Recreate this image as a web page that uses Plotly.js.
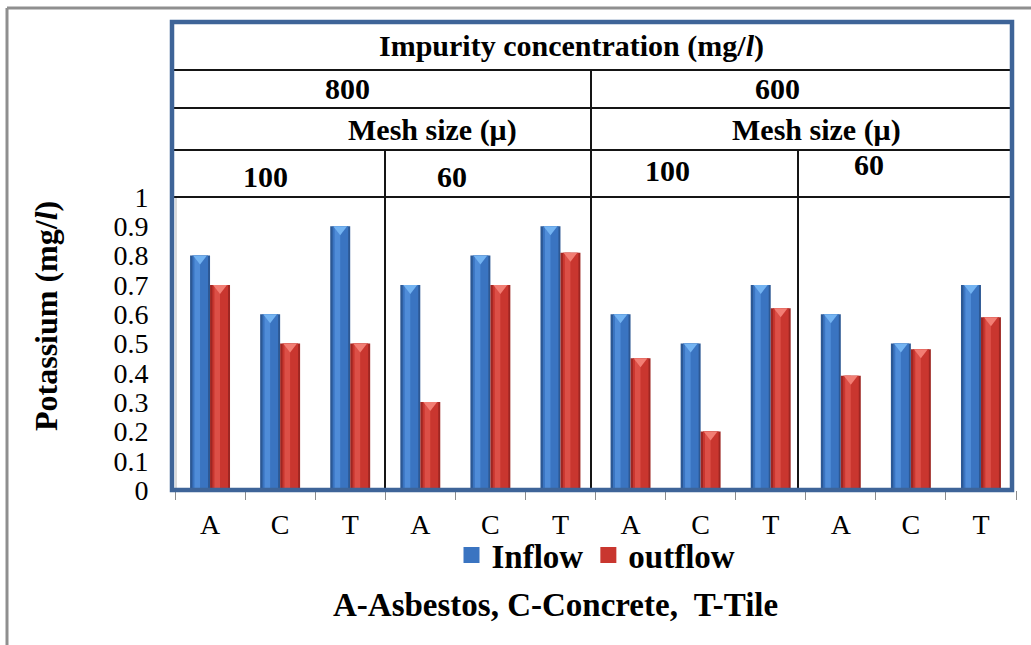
<!DOCTYPE html>
<html>
<head>
<meta charset="utf-8">
<script src="https://cdn.plot.ly/plotly-3.0.1.min.js"></script>
<style>
  html, body { margin: 0; padding: 0; background: #ffffff; }
  #chart { width: 1031px; height: 645px; }
</style>
</head>
<body>
<div id="chart"></div>
<script>
// ---- data ----
const categories = ['A', 'C', 'T', 'A', 'C', 'T', 'A', 'C', 'T', 'A', 'C', 'T'];
const inflow  = [0.8, 0.6, 0.9, 0.7, 0.8, 0.9, 0.6, 0.5, 0.7, 0.6, 0.5, 0.7];
const outflow = [0.7, 0.5, 0.5, 0.3, 0.7, 0.81, 0.45, 0.2, 0.62, 0.39, 0.48, 0.59];
const yTicks = [0, 0.1, 0.2, 0.3, 0.4, 0.5, 0.6, 0.7, 0.8, 0.9, 1];
const concentrationLabels = ['800', '600'];
const meshLabels = ['100', '60', '100', '60'];
const headerTitle = 'Impurity concentration (mg/<i>l</i>)';
const meshTitle = 'Mesh size (μ)';
const yTitle = 'Potassium (mg/<i>l</i>)';
const footnote = 'A-Asbestos, C-Concrete,  T-Tile';

// ---- geometry helpers (pixel -> paper) ----
const W = 1031, H = 645;
const M = { l: 175, r: 15, t: 197, b: 155 };
const PW = W - M.l - M.r, PH = H - M.t - M.b;
const px = x => (x - M.l) / PW;
const py = y => (H - M.b - y) / PH;

const FAMILY = '"Liberation Serif", "Times New Roman", serif';
const f = (size, bold) => ({ family: FAMILY, size: size, color: '#000',
                             weight: bold ? 'bold' : 'normal' });

const idx = categories.map((_, i) => i);
const BAR_W = 0.285;

// cylinder-like shading: stacked bar layers of decreasing width
const series = [
  { name: 'Inflow', values: inflow, base: -BAR_W,
    layers: [['#2c5894', 0, 1], ['#3a74c1', 0.12, 0.9], ['#4f8cd8', 0.22, 0.5]],
    cap: '#74b4f2', legendColor: '#3a74c1' },
  { name: 'outflow', values: outflow, base: 0,
    layers: [['#9e2622', 0, 1], ['#c9362f', 0.12, 0.9], ['#dc4f47', 0.22, 0.5]],
    cap: '#f27e74', legendColor: '#c9362f' }
];

const traces = [];
series.forEach(s => {
  s.layers.forEach(([color, from, to]) => {
    traces.push({
      type: 'bar', x: idx, y: s.values, name: s.name,
      offset: s.base + from * BAR_W, width: (to - from) * BAR_W,
      marker: { color: color, line: { width: 0 } },
      showlegend: false, hoverinfo: 'skip'
    });
  });
});
series.forEach(s => {
  // bevelled top of each bar
  traces.push({
    type: 'scatter', mode: 'markers', showlegend: false, hoverinfo: 'skip',
    x: idx.map(i => i + s.base + BAR_W / 2), y: s.values,
    marker: { symbol: 'triangle-down', standoff: 3, size: 12,
              color: s.cap, line: { width: 0 } }
  });
});
series.forEach(s => {
  // legend swatches
  traces.push({
    type: 'scatter', mode: 'markers', name: s.name, x: [null], y: [null],
    marker: { symbol: 'square', size: 18, color: s.legendColor, line: { width: 0 } },
    hoverinfo: 'skip'
  });
});

// ---- table lines and frame ----
const black = { color: '#151515', width: 2 };
const hLine = (y, x0, x1) => ({ type: 'line', xref: 'paper', yref: 'paper',
  x0: px(x0), x1: px(x1), y0: py(y), y1: py(y), line: black, layer: 'above' });
const vLine = (x, y0, y1) => ({ type: 'line', xref: 'paper', yref: 'paper',
  x0: px(x), x1: px(x), y0: py(y0), y1: py(y1), line: black, layer: 'above' });

const shapes = [
  // outer border
  { type: 'line', xref: 'paper', yref: 'paper', x0: px(7), x1: px(1031), y0: py(8), y1: py(8),
    line: { color: '#8f8f8f', width: 3 } },
  { type: 'line', xref: 'paper', yref: 'paper', x0: px(7), x1: px(7), y0: py(8), y1: py(645),
    line: { color: '#8f8f8f', width: 3 } },
  // thin plot-area edge next to the value axis
  { type: 'line', xref: 'paper', yref: 'paper', x0: px(176), x1: px(176), y0: py(197), y1: py(488),
    line: { color: '#b5b5b5', width: 1 } },
  hLine(70, 172, 1012), hLine(108, 172, 1012), hLine(150, 172, 1012), hLine(197, 172, 1012),
  vLine(591, 70, 490), vLine(385, 150, 490), vLine(798, 150, 490),
  // blue frame around table and plot
  { type: 'rect', xref: 'paper', yref: 'paper', x0: px(172), x1: px(1012), y0: py(490), y1: py(22),
    line: { color: '#3e6498', width: 4.5 }, layer: 'above' }
];

const ann = (text, x, y, font, extra) => Object.assign({
  text: text, xref: 'paper', yref: 'paper', x: px(x), y: py(y),
  xanchor: 'center', yanchor: 'middle', showarrow: false, font: font
}, extra || {});

const HDR = 30;
const annotations = [
  ann(headerTitle, 571, 46, f(HDR, true)),
  ann(concentrationLabels[0], 347, 88, f(HDR, true)),
  ann(concentrationLabels[1], 777, 88, f(HDR, true)),
  ann(meshTitle, 432, 130, f(HDR, true)),
  ann(meshTitle, 816, 130, f(HDR, true)),
  ann(meshLabels[0], 265, 176, f(HDR, true)),
  ann(meshLabels[1], 452, 176, f(HDR, true)),
  ann(meshLabels[2], 667, 170, f(HDR, true)),
  ann(meshLabels[3], 869, 165, f(HDR, true)),
  ann(yTitle, 46, 316, f(32, true), { textangle: -90 }),
  ann(footnote, 555, 605, f(33, true))
];

const layout = {
  width: W, height: H,
  margin: M,
  paper_bgcolor: '#ffffff', plot_bgcolor: '#ffffff',
  barmode: 'overlay',
  showlegend: true,
  legend: { orientation: 'h', x: px(596), xanchor: 'center', y: py(555), yanchor: 'middle',
            font: f(33, true), bgcolor: 'rgba(0,0,0,0)', itemwidth: 30, itemsizing: 'trace' },
  xaxis: {
    range: [-0.5, 11.5], tickvals: idx, ticktext: categories, ticks: '',
    showgrid: false, zeroline: false, showline: false, fixedrange: true,
    tickfont: f(28, false), ticklabelstandoff: 15,
    minor: { tickmode: 'linear', tick0: -0.5, dtick: 1, ticks: 'outside', ticklen: 9,
             tickcolor: '#8c8c8c', tickwidth: 1, showgrid: false }
  },
  yaxis: {
    range: [0, 1], tickvals: yTicks, ticks: 'outside', ticklen: 4, tickcolor: '#8c8c8c',
    showgrid: false, zeroline: false, showline: false, fixedrange: true,
    tickfont: f(28, false), ticklabelstandoff: 16
  },
  shapes: shapes,
  annotations: annotations
};

Plotly.newPlot('chart', traces, layout, { displayModeBar: false, staticPlot: true });
</script>
</body>
</html>
